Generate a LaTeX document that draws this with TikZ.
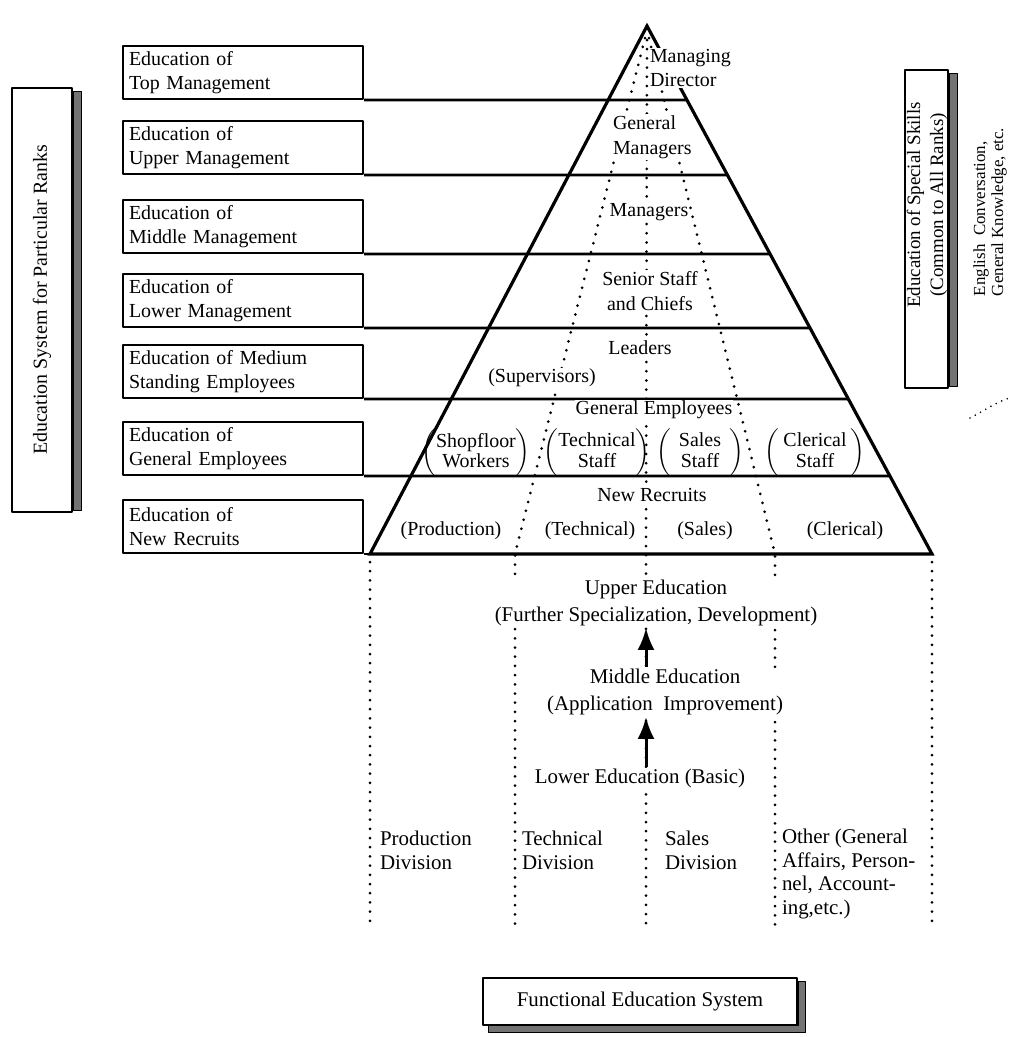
\documentclass[tikz,border=0pt]{standalone}
\usepackage{fontspec}
\setmainfont{Liberation Serif}
\usetikzlibrary{arrows.meta,calc}

\tikzset{
  rankbox/.style={draw,line width=1bp,anchor=south west,minimum width=120bp,minimum height=26.5bp,
    text width=114bp,inner xsep=3bp,inner ysep=0bp,align=left,font=\fontsize{10}{12}\selectfont},
  tier/.style={inner sep=0.5bp,align=center,font=\fontsize{10}{12.5}\selectfont},
  masked/.style={tier,fill=white},
  lowtext/.style={masked,font=\fontsize{10.5}{13.5}\selectfont},
  bracketpair/.style={inner sep=0bp,font=\fontsize{10}{10}\selectfont},
  rankline/.style={line width=1.3bp},
  edgeline/.style={line width=1.6bp,line join=miter},
  dotline/.style={line width=1.5bp,line cap=round,dash pattern=on 0bp off 4.6bp},
  sidebox/.style={draw,line width=1bp,fill=white},
  shadowstrip/.style={fill=black!55,draw=black,line width=0.5bp},
  divlabel/.style={anchor=west,align=left,inner sep=0bp,font=\fontsize{10.5}{12}\selectfont},
  upline/.style={->,line width=1.5bp},
}
\newcommand{\pairlabel}[3][0bp]{$\left(\begin{tabular}{@{\hspace{#1}}c@{\hspace{#1}}}#2\\#3\end{tabular}\right)$}

\begin{document}
\begin{tikzpicture}[x=0.5bp,y=-0.5bp,>={Latex[length=11bp,width=8.5bp]},line join=bevel]
\pgfsetlinewidth{1bp}
\useasboundingbox (0,0) rectangle (1010,1037);
\fill[white] (0,0) rectangle (1010,1037);

% Node: ranks (left side box)
\node[sidebox,minimum width=30bp,minimum height=212bp] (ranks) at (42,300) {};
\fill[shadowstrip] ($(ranks.north east)+(0,4)$) rectangle ($(ranks.south east)+(8,-3)$);
\node[rotate=90,font=\fontsize{10}{12}\selectfont] (rankstxt) at (ranks.center) {Education System for Particular Ranks};

% Node: skills (right side box)
\node[sidebox,minimum width=21.5bp,minimum height=159bp] (skills) at (926.5,229) {};
\fill[shadowstrip] ($(skills.north east)+(0,4)$) rectangle ($(skills.south east)+(8,-3)$);
\node[rotate=90,align=center,inner sep=0bp,font=\fontsize{9.5}{11.5}\selectfont] (skillstxt) at (927,205) {Education of Special Skills\\(Common to All Ranks)};
\node[rotate=90,align=left,inner sep=0bp,font=\fontsize{8.5}{9}\selectfont] (skillsnote) at (990,212) {English\ \ Conversation,\\General Knowledge, etc.};
\draw[dotline,line width=0.9bp,dash pattern=on 0bp off 3bp] (970,418) .. controls (985,410) and (997,402) .. (1009,398);

% Nodes: rank boxes
\node[rankbox] (r1) at (122,100) {Education of\\Top Management};
\node[rankbox] (r2) at (122,175) {Education of\\Upper Management};
\node[rankbox] (r3) at (122,254) {Education of\\Middle Management};
\node[rankbox] (r4) at (122,328) {Education of\\Lower Management};
\node[rankbox] (r5) at (122,399) {Education of Medium\\Standing Employees};
\node[rankbox] (r6) at (122,476) {Education of\\General Employees};
\node[rankbox] (r7) at (122,554) {Education of\\New Recruits};

% Pyramid
\coordinate (apex) at (647,26);
\coordinate (baseL) at (370,554);
\coordinate (baseR) at (932,554);
\draw[edgeline] (baseL) -- (apex) -- (baseR) -- cycle;

% Edges: rank boxes -> pyramid
\foreach \i/\y in {1/100,2/175,3/254,4/328,5/399,6/476}{
  \pgfmathsetmacro\f{(\y-26)/528}
  \coordinate (e\i) at ($(apex)!\f!(baseR)$);
  \draw[rankline] (r\i.south east) -- (e\i);
}
\draw[rankline] (r7.south east) -- (baseL);

% Dotted division lines
\coordinate (dA) at (515,554);
\coordinate (dB) at (646,554);
\coordinate (dC) at (775,554);
\coordinate (fL) at (370,928);
\coordinate (fA) at (515,928);
\coordinate (fB) at (646,928);
\coordinate (fC) at (775,928);
\coordinate (fR) at (932,928);
\draw[dotline] ($(apex)+(-2,12)$) -- (dA) -- (fA);
\draw[dotline] ($(apex)+(0,14)$) -- (dB) -- (fB);
\draw[dotline] ($(apex)+(2,12)$) -- (dC) -- (fC);
\draw[dotline] ($(baseL)+(0,8)$) -- (fL);
\draw[dotline] ($(baseR)+(0,8)$) -- (fR);

% Nodes: ranks in the pyramid
\node[masked,anchor=west,align=left] (md) at (648,68) {Managing\\Director};
\node[masked,anchor=west,align=left] (gm) at (611,137) {General\\Managers};
\node[masked] (mgr) at (649,212) {Managers};
\node[masked] (ssc) at (650,291) {Senior Staff\\and Chiefs};
\node[masked] (ldr) at (640,348) {Leaders};
\node[masked] (sup) at (542,378) {(Supervisors)};
\node[masked] (gen) at (654,410) {General Employees};
\node[bracketpair] (shop) at (476,453) {\pairlabel{Shopfloor}{Workers}};
\node[bracketpair] (tech) at (597,453) {\pairlabel{Technical}{Staff}};
\node[bracketpair] (sale) at (700,453) {\pairlabel[4bp]{Sales}{Staff}};
\node[bracketpair] (cler) at (815,453) {\pairlabel[2bp]{Clerical}{Staff}};
\node[masked] (nr) at (652,495) {New Recruits};
\node[tier] (prod) at (451,531) {(Production)};
\node[tier] (techn) at (590,531) {(Technical)};
\node[tier] (sales) at (705,531) {(Sales)};
\node[tier] (cleri) at (845,531) {(Clerical)};

% Nodes: functional education levels
\node[lowtext] (upper) at (656,603) {Upper Education\\(Further Specialization, Development)};
\node[lowtext] (middle) at (665,692) {Middle Education\\(Application\ \ Improvement)};
\node[lowtext] (lower) at (640,778) {Lower Education (Basic)};

% Edge: lower -> middle -> upper
\draw[upline] (middle.north -| dB) -- (upper.south -| dB);
\draw[upline] (lower.north -| dB) -- (middle.south -| dB);

% Nodes: divisions
\node[divlabel] (pdiv) at (379,850) {Production\\Division};
\node[divlabel] (tdiv) at (521,850) {Technical\\Division};
\node[divlabel] (sdiv) at (664,850) {Sales\\Division};
\node[divlabel] (odiv) at (781,874) {Other (General\\Affairs, Person-\\nel, Account-\\ing,etc.)};

% Node: functional education system
\node[sidebox,minimum width=157bp,minimum height=23.5bp,font=\fontsize{10.5}{12}\selectfont] (fes) at (640,1001) {Functional Education System};
\filldraw[shadowstrip] ($(fes.north east)+(0,5)$) -- ++(7,0) -- ($(fes.south east)+(7,7)$)
  -- ($(fes.south west)+(7,7)$) -- ($(fes.south west)+(7,0)$) -- (fes.south east) -- cycle;
%
\end{tikzpicture}
\end{document}
